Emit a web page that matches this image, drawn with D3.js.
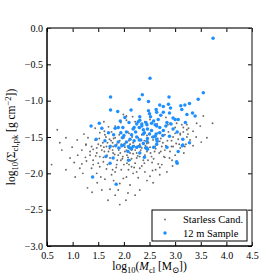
<!DOCTYPE html>
<html>
<head>
<meta charset="utf-8">
<script src="https://cdn.jsdelivr.net/npm/d3@7"></script>
<style>
  body { margin: 0; background: #fff; }
  text { font-family: "Liberation Serif", "DejaVu Serif", serif; fill: #000; }
</style>
</head>
<body>
<div id="chart"></div>
<script>
// data (log10 M_cl, log10 Sigma_cl,pk)
const starless = [
  [0.70,-1.40],[0.59,-1.88],[1.26,-1.61],[1.03,-1.85],[1.05,-2.05],[1.18,-1.87],[1.27,-1.83],[1.14,-1.93],
  [1.20,-2.00],[1.29,-2.20],[1.34,-1.75],[1.40,-1.82],[1.37,-1.93],[1.47,-2.00],[1.48,-2.13],[1.53,-1.91],
  [1.60,-1.84],[1.66,-1.94],[1.63,-2.08],[1.73,-2.22],[1.76,-2.02],[1.83,-1.98],[1.89,-2.23],[2.04,-2.37],
  [1.92,-2.14],[1.99,-2.07],[2.09,-1.95],[2.15,-1.91],[2.18,-2.00],[2.22,-1.86],[2.06,-1.86],[2.12,-1.82],
  [2.25,-1.79],[1.86,-1.88],[1.94,-1.82],[1.73,-1.79],[1.53,-1.77],[1.47,-1.72],[1.40,-1.67],[1.57,-1.68],
  [1.66,-1.63],[1.79,-1.63],[1.92,-1.65],[2.02,-1.70],[2.15,-1.68],[2.25,-1.65],[1.79,-1.72],[1.89,-1.75],
  [2.69,-1.72],[2.80,-1.78],[2.54,-1.77],[2.67,-1.87],[2.74,-1.88],[2.56,-1.96],[2.57,-2.13],[3.17,-1.72],
  [2.45,-2.10],[2.78,-1.77],[2.89,-1.79],[3.08,-1.60],[3.19,-1.63],[2.96,-1.63],[2.31,-1.93],[2.38,-1.82],
  [1.99,-1.19],[2.05,-1.21],[2.17,-1.22],[2.05,-1.27],[1.94,-1.30],[1.83,-1.35],[1.70,-1.36],[1.76,-1.43],
  [1.91,-1.47],[1.83,-1.51],[1.53,-1.44],[1.52,-1.52],[1.72,-1.53],[1.78,-1.58],[1.26,-1.60],[1.37,-1.63],
  [1.47,-1.65],[1.61,-1.64],[1.74,-1.62],[2.02,-1.59],[2.12,-1.60],[2.28,-1.62],[2.09,-1.65],[2.51,-1.26],
  [2.82,-1.23],[2.90,-1.31],[3.03,-1.31],[3.13,-1.33],[3.23,-1.33],[3.26,-1.38],[3.00,-1.37],[2.87,-1.43],
  [3.16,-1.43],[3.10,-1.47],[2.96,-1.50],[3.23,-1.50],[3.06,-1.53],[2.93,-1.55],[3.02,-1.59],[3.21,-1.60],
  [2.51,-1.45],[2.67,-1.44],[2.80,-1.47],[2.57,-1.54],[2.70,-1.56],[2.45,-1.59],[2.51,-1.64],[2.61,-1.63],
  [2.74,-1.63],[2.93,-1.63],[3.10,-1.65],[2.41,-1.65],[3.55,-1.21],[3.73,-1.31],[3.49,-1.35],[3.42,-1.31],
  [3.16,-1.37],[3.23,-1.40],[3.25,-1.46],[3.10,-1.45],[3.41,-1.50],[2.22,-1.43],[2.31,-1.38],[2.28,-1.51],
  [2.35,-1.47],[2.08,-1.43],[2.16,-1.50],[2.00,-1.51],[1.92,-1.55],[2.20,-1.55],[2.31,-1.60],[2.06,-1.75],
  [2.18,-1.73],[2.31,-1.71],[2.41,-1.75],[2.47,-1.82],[2.31,-1.77],[1.98,-1.77],[1.87,-1.82],[1.67,-1.75],
  [1.59,-1.58],[1.44,-1.54],[1.63,-1.47],[1.30,-1.51],[1.18,-1.68],[1.10,-1.75],[0.95,-1.79],[0.87,-1.95],
  [0.79,-1.68],[1.57,-2.23],[1.38,-2.26],[1.83,-2.30],[2.12,-2.16],[2.28,-2.06],[2.41,-1.98],[2.51,-2.04],
  [2.70,-2.02],[2.84,-1.98],[2.94,-1.82],[2.80,-1.68],[3.29,-1.54],[3.35,-1.62],[3.51,-1.57],[3.62,-1.51],
  [2.86,-1.33],[2.65,-1.32],[2.41,-1.29],[2.22,-1.29],[1.89,-1.38],[1.61,-1.29],[1.44,-1.38],[1.22,-1.46],
  [1.09,-1.54],[0.99,-1.64],[0.87,-1.51],[0.75,-1.58],[2.31,-2.23],[2.22,-2.30],[2.08,-2.27],[1.69,-2.37],
  [1.92,-2.43],[1.95,-1.60],[2.05,-1.68],[2.25,-1.72],[2.35,-1.65],[2.45,-1.70],[1.70,-1.70],[1.60,-1.78],
  [1.85,-1.92],[2.00,-1.88],[2.15,-1.80],[2.35,-1.90],[2.55,-1.85],[2.60,-1.70],[1.50,-1.60],[1.75,-1.55],
  [2.10,-1.55],[2.40,-1.55],[2.65,-1.60],[1.40,-1.88],[1.55,-2.05],[1.80,-2.10],[2.05,-2.05],[2.25,-1.98],
  [2.70,-1.92],[3.00,-1.75],[2.85,-1.55],[2.55,-1.50],[1.65,-1.50],[1.90,-1.68],[2.20,-1.62],
  [1.55,-1.62],[1.62,-1.70],[1.68,-1.58],[1.72,-1.66],[1.78,-1.68],[1.82,-1.74],[1.86,-1.60],[1.93,-1.72],
  [1.97,-1.80],[2.02,-1.64],[2.08,-1.78],[2.12,-1.72],[2.18,-1.58],[2.22,-1.68],[2.27,-1.76],[2.33,-1.68],
  [2.37,-1.58],[2.42,-1.62],[2.48,-1.58],[2.52,-1.72],[2.58,-1.80],[2.62,-1.66],[2.66,-1.52],[2.72,-1.70],
  [2.76,-1.58],[2.82,-1.62],[2.90,-1.70],[2.95,-1.90],[1.45,-1.76],[1.34,-1.70],[1.25,-1.78],[1.50,-1.86],
  [1.68,-1.88],[1.78,-1.95],[1.95,-1.95],[2.10,-1.88],[2.20,-1.92],[2.40,-1.86],[2.62,-1.95],[1.62,-1.42],
  [1.80,-1.52],[2.10,-1.45],[2.45,-1.48],[2.72,-1.52],[3.35,-1.42],[3.00,-1.45]
];

const sample12m = [
  [3.74,-0.14],[2.51,-0.69],[1.74,-0.95],[2.36,-0.92],[2.30,-0.98],[2.48,-1.01],[3.55,-0.89],[3.45,-0.98],
  [2.88,-0.95],[1.74,-1.13],[1.88,-1.15],[2.14,-1.13],[3.28,-1.04],[3.19,-1.06],[3.11,-1.07],[3.13,-1.12],
  [2.70,-1.06],[2.77,-1.08],[2.87,-1.05],[2.63,-1.12],[2.91,-1.10],[2.77,-1.16],[2.89,-1.17],[2.64,-1.16],
  [2.50,-1.18],[2.48,-1.14],[3.34,-1.17],[3.23,-1.19],[3.39,-1.21],[3.06,-1.26],[3.00,-1.26],[2.96,-1.24],
  [2.84,-1.30],[2.67,-1.26],[2.61,-1.33],[2.54,-1.31],[2.64,-1.35],[2.45,-1.33],[2.35,-1.32],[2.31,-1.27],
  [2.31,-1.22],[2.43,-1.30],[2.70,-1.37],[2.77,-1.41],[2.54,-1.41],[2.46,-1.39],[2.96,-1.39],[2.38,-1.46],
  [2.61,-1.49],[2.89,-1.49],[2.76,-1.48],[2.57,-1.50],[2.63,-1.46],[2.38,-1.40],[2.46,-1.52],[2.64,-1.53],
  [2.33,-1.54],[3.28,-1.58],[3.15,-1.53],[2.38,-1.59],[2.64,-1.60],[2.84,-1.64],[3.04,-1.43],[1.36,-1.35],
  [1.52,-1.31],[1.57,-1.38],[2.02,-1.23],[2.10,-1.30],[1.89,-1.37],[1.98,-1.37],[2.20,-1.37],[2.25,-1.32],
  [2.28,-1.29],[2.30,-1.37],[1.83,-1.38],[1.94,-1.44],[2.05,-1.43],[2.23,-1.43],[2.18,-1.39],[1.46,-1.53],
  [1.63,-1.55],[1.89,-1.57],[1.97,-1.51],[2.05,-1.57],[2.12,-1.53],[2.25,-1.50],[2.30,-1.54],[1.96,-1.62],
  [2.18,-1.63],[1.84,-1.62],[1.65,-1.77],[1.73,-1.86],[1.79,-1.79],[1.90,-1.65],[2.00,-1.61],[2.09,-1.63],
  [2.15,-1.66],[2.09,-1.82],[2.25,-1.64],[1.39,-2.05],[1.85,-2.15],[3.06,-1.70],[3.03,-1.84],[3.04,-1.86],
  [3.15,-1.61],[2.45,-1.65],[1.73,-1.63],[2.12,-1.65],[2.31,-1.72],[2.46,-1.67],[2.58,-1.64],[2.31,-1.63],
  [2.45,-1.56],[2.65,-1.56],[2.43,-1.65],[3.14,-1.62],[2.20,-1.55],[2.40,-1.44],[2.52,-1.22],[2.72,-1.20],
  [2.58,-1.28],[2.82,-1.35],[2.92,-1.32],[3.20,-1.30],[2.50,-1.46],[2.70,-1.44],[2.15,-1.47],[2.00,-1.48],
  [2.35,-1.35],[1.93,-1.28],[1.80,-1.47],[2.08,-1.70],[2.40,-1.78],[1.70,-1.44]
];

const xTicks = [0.5, 1.0, 1.5, 2.0, 2.5, 3.0, 3.5, 4.0, 4.5];
const yTicks = [-3.0, -2.5, -2.0, -1.5, -1.0, -0.5, 0.0];
const legendLabels = ["Starless Cand.", "12 m Sample"];

const W = 280, H = 280;
const margin = {top: 28, right: 28, bottom: 34, left: 47};

const svg = d3.select('#chart').append('svg')
    .attr('width', W)
    .attr('height', H);

const x = d3.scaleLinear().domain([0.5, 4.5]).range([margin.left, W - margin.right]);
const y = d3.scaleLinear().domain([-3, 0]).range([H - margin.bottom, margin.top]);

const fmt = d => d3.format('.1f')(d).replace('-', '\u2212');

// axes, ticks inward on all four sides
svg.append('g')
    .attr('transform', `translate(0,${H - margin.bottom})`)
    .call(d3.axisBottom(x).tickValues(xTicks).tickFormat(fmt).tickSizeInner(-4).tickSizeOuter(0).tickPadding(6));
svg.append('g')
    .attr('transform', `translate(0,${margin.top})`)
    .call(d3.axisTop(x).tickValues(xTicks).tickFormat('').tickSizeInner(-4).tickSizeOuter(0));
svg.append('g')
    .attr('transform', `translate(${margin.left},0)`)
    .call(d3.axisLeft(y).tickValues(yTicks).tickFormat(fmt).tickSizeInner(-4).tickSizeOuter(0).tickPadding(4));
svg.append('g')
    .attr('transform', `translate(${W - margin.right},0)`)
    .call(d3.axisRight(y).tickValues(yTicks).tickFormat('').tickSizeInner(-4).tickSizeOuter(0));

svg.selectAll('.domain').remove();
svg.selectAll('.tick line').attr('stroke', '#000').attr('stroke-width', 1);
svg.selectAll('.tick text')
    .style('font-family', '"Liberation Serif", serif')
    .style('font-size', '10px')
    .attr('fill', '#000');

// points
svg.append('g').selectAll('circle')
    .data(starless)
    .join('circle')
    .attr('cx', d => x(d[0]))
    .attr('cy', d => y(d[1]))
    .attr('r', 0.95)
    .attr('fill', '#6a6a6a');

svg.append('g').selectAll('circle')
    .data(sample12m)
    .join('circle')
    .attr('cx', d => x(d[0]))
    .attr('cy', d => y(d[1]))
    .attr('r', 1.75)
    .attr('fill', '#1e8fff');

// frame
const x0 = x(0.5), x1 = x(4.5), y0 = y(-3), y1 = y(0);
svg.append('line').attr('x1', x0).attr('x2', x1).attr('y1', y1).attr('y2', y1).attr('stroke', '#444').attr('stroke-width', 1.3);
svg.append('line').attr('x1', x1).attr('x2', x1).attr('y1', y1).attr('y2', y0).attr('stroke', '#444').attr('stroke-width', 1.3);
svg.append('line').attr('x1', x0).attr('x2', x1).attr('y1', y0).attr('y2', y0).attr('stroke', '#000').attr('stroke-width', 1.5);
svg.append('line').attr('x1', x0).attr('x2', x0).attr('y1', y1).attr('y2', y0).attr('stroke', '#000').attr('stroke-width', 1.5);

// text with sub/superscripts
function richText(sel, parts) {
    let shift = 0;
    parts.forEach(([t, k, st]) => {
        const target = k === 'sub' ? 3 : k === 'sup' ? -4.5 : 0;
        sel.append('tspan')
            .attr('dy', target - shift)
            .style('font-size', k ? '8.5px' : null)
            .style('font-style', st || null)
            .text(t);
        shift = target;
    });
}

const xLabel = svg.append('text')
    .attr('x', (x0 + x1) / 2)
    .attr('y', 270)
    .attr('text-anchor', 'middle')
    .style('font-size', '11.5px');
richText(xLabel, [['log'], ['10', 'sub'], ['('], ['M', null, 'italic'], ['cl', 'sub'], ['  [M'], ['\u2299', 'sub'], ['])']]);

const yLabel = svg.append('text')
    .attr('transform', `translate(15,${(y0 + y1) / 2}) rotate(-90)`)
    .attr('text-anchor', 'middle')
    .style('font-size', '11.5px');
richText(yLabel, [['log'], ['10', 'sub'], ['(\u03A3'], ['cl,pk', 'sub'], ['  [g cm'], ['\u22122', 'sup'], ['])']]);

// legend
const lg = svg.append('g');
lg.append('rect')
    .attr('x', 152).attr('y', 210)
    .attr('width', 95).attr('height', 31)
    .attr('fill', '#fff')
    .attr('stroke', '#000')
    .attr('stroke-width', 1);
const legendStyle = [{r: 0.95, c: '#6a6a6a'}, {r: 1.75, c: '#1e8fff'}];
legendLabels.forEach((lab, i) => {
    const cy = 219.5 + i * 13.5;
    lg.append('circle').attr('cx', 165).attr('cy', cy).attr('r', legendStyle[i].r).attr('fill', legendStyle[i].c);
    lg.append('text')
        .attr('x', 183).attr('y', cy + 3.5)
        .style('font-size', '10.5px')
        .text(lab);
});
</script>
</body>
</html>
